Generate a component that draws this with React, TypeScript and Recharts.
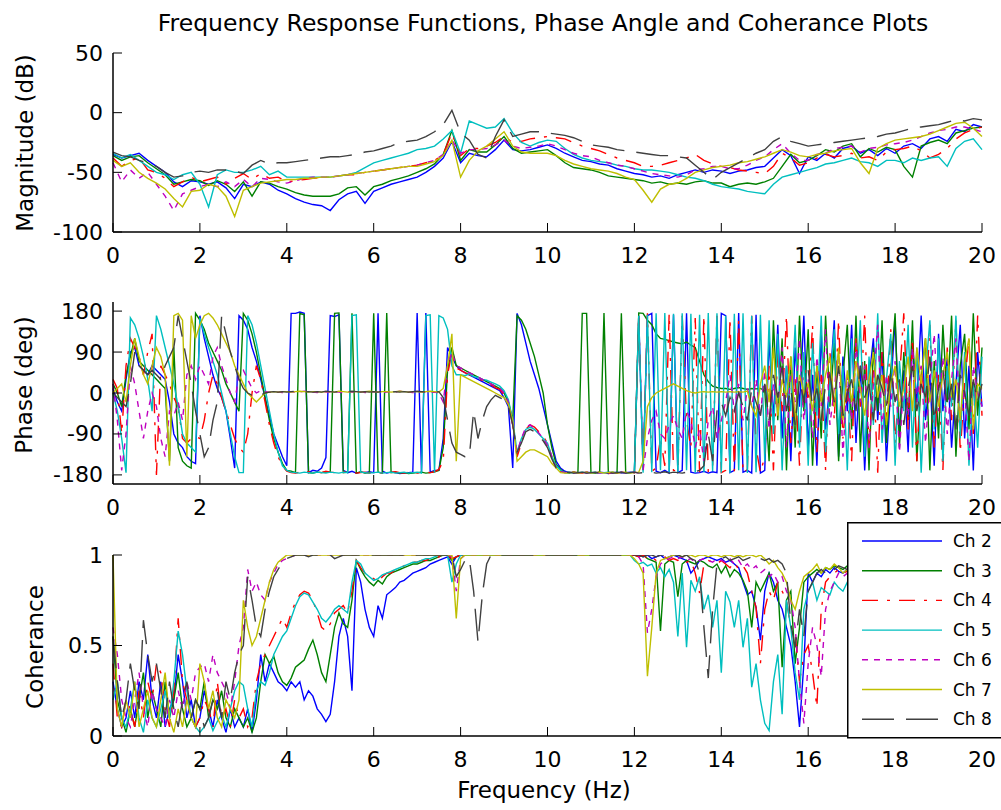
import { LineChart, Line, XAxis, YAxis } from 'recharts';

const FONT = '"DejaVu Sans", Verdana, sans-serif';

const channelNames = ['Ch 2', 'Ch 3', 'Ch 4', 'Ch 5', 'Ch 6', 'Ch 7', 'Ch 8'];
const channelKeys = ['ch2', 'ch3', 'ch4', 'ch5', 'ch6', 'ch7', 'ch8'];
const channelColors = ['#0000ff', '#008000', '#ff0000', '#00bfbf', '#bf00bf', '#bfbf00', '#404040'];
const channelDashes = [undefined, undefined, '16 9 3 9', undefined, '6 6', undefined, '32 12'];

const freqTicks = [0, 2, 4, 6, 8, 10, 12, 14, 16, 18, 20];
const magTicks = [-100, -50, 0, 50];
const phaseTicks = [-180, -90, 0, 90, 180];
const cohTicks = [0, 0.5, 1];

// sampling grids (Hz)
const magFreq = Array.from({ length: 101 }, (_, i) => +(i * 0.2).toFixed(1));
const phaseFreq = Array.from({ length: 201 }, (_, i) => +(i * 0.1).toFixed(1));
const cohFreq = Array.from({ length: 171 }, (_, i) => +(i * 0.1).toFixed(1));

// magnitude (dB), every 0.2 Hz
const magCh2 = [
  -35, -38, -36, -34, -40, -45, -50, -58, -62, -57, -58, -60, -58, -63, -72, -60, -62, -58, -60, -65,
  -68, -72, -75, -77, -78, -82, -73, -68, -66, -76, -66, -63, -60, -58, -56, -54, -50, -45, -38, -24,
  -42, -34, -36, -37, -31, -23, -31, -32, -31, -29, -27, -30, -34, -37, -40, -41, -43, -44, -47, -49,
  -51, -52, -54, -53, -55, -52, -50, -48, -50, -48, -49, -51, -49, -48, -46, -45, -38, -31, -36, -51,
  -37, -40, -34, -38, -30, -28, -34, -31, -36, -30, -34, -28, -26, -30, -22, -20, -24, -14, -16, -10,
  -12,
];
const magCh3 = [
  -36, -40, -37, -36, -42, -47, -52, -60, -58, -56, -57, -61, -57, -60, -66, -58, -70, -58, -59, -62,
  -64, -67, -69, -70, -70, -70, -68, -63, -62, -69, -62, -60, -57, -55, -53, -50, -47, -43, -35, -15,
  -40, -31, -33, -33, -27, -20, -30, -34, -33, -32, -31, -36, -42, -46, -47, -48, -50, -53, -54, -55,
  -56, -57, -59, -58, -60, -59, -60, -58, -57, -59, -59, -62, -60, -59, -60, -58, -55, -45, -35, -42,
  -40, -36, -31, -33, -28, -26, -37, -30, -33, -29, -31, -45, -54, -28, -25, -23, -26, -17, -15, -13,
  -12,
];
const magCh4 = [
  -38, -45, -40, -38, -48, -50, -55, -62, -58, -54, -58, -56, -54, -60, -55, -51, -56, -51, -55, -54,
  -58, -57, -56, -55, -54, -54, -53, -52, -52, -50, -49, -48, -47, -46, -45, -44, -42, -40, -35, -17,
  -36, -30, -30, -28, -25, -20, -25, -24, -22, -21, -20, -21, -22, -25, -28, -30, -32, -35, -38, -40,
  -42, -45, -45, -44, -42, -40, -38, -35, -40, -43, -45, -46, -48, -49, -50, -51, -45, -34, -38, -44,
  -42, -38, -35, -37, -36, -34, -38, -37, -40, -33, -31, -30, -28, -32, -38, -35, -30, -22, -17, -14,
  -12,
];
const magCh5 = [
  -34, -38, -35, -40, -45, -50, -52, -56, -52, -50, -60, -79, -52, -48, -50, -50, -48, -45, -52, -49,
  -54, -54, -54, -54, -54, -54, -53, -52, -50, -46, -42, -40, -38, -36, -34, -31, -30, -28, -22, -15,
  -34, -7, -10, -13, -12, -5, -17, -25, -28, -25, -23, -24, -30, -35, -38, -40, -41, -42, -44, -45,
  -47, -48, -48, -49, -50, -52, -54, -55, -57, -60, -62, -63, -64, -66, -67, -68, -60, -54, -52, -50,
  -48, -46, -43, -42, -40, -38, -41, -42, -45, -40, -40, -42, -38, -40, -38, -37, -45, -30, -24, -22,
  -31,
];
const magCh6 = [
  -42, -58, -48, -55, -50, -60, -70, -82, -68, -65, -62, -60, -62, -58, -62, -56, -62, -55, -56, -58,
  -59, -57, -55, -54, -54, -54, -53, -52, -51, -50, -49, -48, -47, -46, -45, -44, -42, -40, -35, -23,
  -34, -31, -31, -30, -27, -23, -28, -30, -29, -28, -26, -28, -31, -34, -36, -37, -40, -42, -44, -45,
  -47, -49, -51, -52, -53, -54, -52, -48, -47, -45, -45, -47, -47, -44, -40, -37, -31, -26, -34, -40,
  -40, -35, -34, -30, -29, -28, -33, -30, -29, -27, -26, -25, -23, -20, -17, -15, -14, -12, -12, -14,
  -16,
];
const magCh7 = [
  -40, -45, -42, -50, -55, -59, -64, -72, -79, -66, -65, -60, -62, -70, -87, -65, -62, -59, -58, -57,
  -56, -56, -55, -55, -54, -54, -53, -52, -51, -50, -49, -48, -47, -46, -45, -45, -43, -41, -36, -23,
  -54, -40, -32, -28, -22, -16, -28, -33, -34, -34, -34, -36, -40, -43, -45, -47, -48, -49, -51, -54,
  -56, -65, -75, -64, -60, -59, -55, -50, -48, -46, -45, -44, -42, -41, -39, -37, -34, -31, -33, -36,
  -37, -35, -34, -32, -31, -30, -42, -51, -30, -26, -23, -22, -21, -20, -18, -15, -12, -9, -8, -13,
  -20,
];
const magCh8 = [
  -33, -36, -37, -40, -42, -45, -50, -54, -53, -50, -49, -50, -48, -48, -49, -51, -44, -40, -43, -42,
  -42, -41, -40, -39, -38, -37, -37, -36, -35, -33, -32, -30, -28, -25, -24, -23, -20, -16, -10, 2,
  -17, -23, -35, -38, -20, -6, -20, -18, -16, -16, -17, -18, -19, -21, -24, -27, -28, -29, -31, -32,
  -33, -34, -35, -36, -36, -37, -38, -44, -50, -56, -50, -46, -42, -38, -34, -31, -24, -20, -24, -26,
  -28, -27, -26, -25, -24, -23, -22, -21, -20, -18, -17, -15, -13, -12, -11, -10, -8, -6, -7, -5,
  -6,
];

// phase (deg), every 0.1 Hz
const phaseCh2 = [
  10, -20, -40, 30, 90, 100, 60, 50, 40, 60,
  50, 40, 30, -20, -90, -110, -120, -140, -150, -155,
  170, 120, 80, 40, 10, -10, -40, -100, -165, 170,
  160, 140, 100, 70, 30, -10, -50, -90, -115, -140,
  -160, 175, 175, 178, 175, -175, -170, -172, -165, -142,
  170, 168, 172, -170, -175, -172, -176, -174, -175, -173,
  -175, 175, -172, -176, -174, -175, -177, -176, -175, -174,
  176, -175, 176, -174, -170, -170, -100, 100, 80, 60,
  50, 45, 40, 35, 30, 25, 20, 15, 10, 5,
  -10, -30, -165, 175, 150, 110, 70, 40, 10, -30,
  -70, -110, -150, -165, -172, -175, -174, -176, -175, -174,
  -175, -176, -174, -175, -177, -175, -174, -176, -175, -174,
  -175, 170, -170, 170, 175, -172, -175, -170, -176, 172,
  -175, -170, 175, -174, -176, -175, -172, -176, -173, -175,
  175, 170, -175, -170, 176, -174, -170, -176, 172, -176,
  -170, 120, -60, 150, -100, 60, -150, 100, -30, 170,
  -120, 40, -160, 130, -80, 20, 160, -140, 80, -40,
  150, -110, 60, -170, 30, 120, -60, 90, -150, 10,
  160, -90, 50, -130, 110, -20, 170, -60, 40, -160,
  130, -40, 80, -120, 20, 150, -100, 60, -170, 90,
  -30,
];
const phaseCh3 = [
  20, 0, -30, 40, 80, 120, 70, 60, 50, 40,
  30, 20, 10, -150, 100, -120, -150, -160, -165, 175,
  160, 140, 110, 90, 70, 50, 20, 0, -20, -40,
  175, 160, 130, 90, 40, -10, -60, -100, -130, -155,
  -170, -172, -175, 175, 172, -175, -176, -174, -175, -173,
  -174, 175, 176, -175, -174, 175, -176, -173, -176, -175,
  175, -174, -176, 176, -175, -174, -176, -175, -177, -176,
  -175, -174, -176, -175, -173, -170, -120, 50, 100, 60,
  55, 50, 45, 40, 35, 30, 25, 20, 15, 10,
  0, -20, -60, 170, 160, 140, 110, 80, 40, 0,
  -70, -120, -157, -168, -175, -176, -174, -175, 175, 175,
  -175, -176, -174, 176, -175, -174, -176, 175, -176, -175,
  -174, 176, 175, 160, 150, 130, 120, 118, 115, 112,
  110, 108, 112, 105, 100, 70, 40, 25, 15, 12,
  10, 10, 8, 10, 12, 10, 8, 10, 9, 10,
  5, -150, 160, -60, 120, -170, 80, -120, 170, -40,
  140, -160, 60, -100, 170, -30, 110, -150, 40, 150,
  -80, 170, -130, 70, -170, 100, -40, 160, -110, 50,
  175, -120, 90, -60, 160, -150, 30, 120, -170, 70,
  -100, 150, -20, 170, -140, 60, 130, -80, 175, -50,
  100,
];
const phaseCh4 = [
  30, 10, -90, 60, 120, 100, 80, 40, 90, 130,
  -180, 60, 40, 20, -10, -30, -100, -110, -100, -95,
  -100, -60, 0, 40, 20, -10, -40, -70, -100, -120,
  -130, -90, 0, 60, 30, -20, -70, -110, -140, -160,
  -172, -175, -176, -174, -175, -173, -176, -174, -175, -172,
  -174, -175, -176, -173, -175, -174, -176, -175, -174, -176,
  -175, -174, -176, -175, -174, -173, -175, -176, -174, -175,
  -176, -175, -174, -175, -173, -168, -150, 40, 90, 55,
  50, 45, 40, 38, 32, 28, 22, 18, 12, 8,
  -5, -25, -70, -140, -110, -80, -70, -75, -85, -95,
  -110, -140, -165, -172, -175, -176, -174, -175, -176, -174,
  -175, -176, -174, -175, -177, -175, -176, -174, -175, -176,
  -175, 170, -170, 175, -172, -165, -100, -160, 175, -170,
  -172, 170, -60, -120, 165, -174, 170, -175, -160, 170,
  -175, -170, 165, -172, 160, -176, -168, 170, -120, -175,
  -140, 60, -170, 100, -40, 170, -110, 30, -160, 80,
  -20, 150, -130, 40, -170, 90, -60, 160, -100, 10,
  -150, 120, -30, 170, -120, 50, -175, 90, -60, 140,
  -110, 30, 175, -80, 120, -150, 60, -30, 150, -120,
  40, -170, 100, -60, 160, -130, 20, 120, -90, 170,
  -50,
];
const phaseCh5 = [
  0, -40, -100, -175, 165, 150, 120, 80, 30, -40,
  170, 140, 100, 60, 20, -30, -90, -110, -120, -130,
  165, 130, 100, 70, 40, 0, -40, -90, -140, -175,
  -175, 170, 150, 110, 60, 10, -40, -90, -130, -160,
  -170, -174, -175, -176, -174, -175, -176, -174, -175, -176,
  -174, -175, -176, -174, -175, 170, 172, -174, -175, -176,
  -175, -174, -176, -175, -174, -176, -175, -174, -176, -175,
  -174, -176, 170, 172, -175, 170, 165, 140, 60, 40,
  40, 38, 42, 36, 34, 30, 28, 24, 20, 15,
  5, -15, -60, -130, -100, -80, -75, -80, -90, -100,
  -110, -140, -160, -170, -175, -174, -176, -175, -174, -176,
  -175, -174, -176, -175, -174, -176, -175, -174, -176, -175,
  -174, 170, -175, 172, -174, 175, -170, 176, -175, 174,
  -176, 175, -170, 174, -175, 172, -174, 176, -172, 175,
  -175, 170, -176, 174, -170, 175, -176, 170, -174, 172,
  -150, 160, -90, 130, -170, 60, -40, 150, -120, 90,
  -160, 110, -50, 170, -130, 20, 140, -90, 60, -170,
  120, -20, 160, -140, 80, -70, 175, -110, 30, 130,
  -160, 70, -40, 150, -120, 100, -175, 40, 160, -80,
  120, -150, 60, -30, 170, -100, 90, -160, 20, -120,
  80,
];
const phaseCh6 = [
  20, -60, -170, -90, 60, 20, -40, -100, -40, 0,
  -30, -100, -140, -40, -50, -20, -60, 40, 60, 30,
  60, 40, 20, 80, 100, 60, 30, 0, -20, 40,
  50, 30, 10, 0, 5, 3, 2, 0, 2, 1,
  2, 3, 1, 2, 4, 3, 2, 1, 3, 2,
  2, 3, 2, 1, 3, 2, 2, 3, 1, 2,
  3, 2, 1, 2, 3, 2, 4, 3, 2, 1,
  2, 3, 2, 1, 2, 0, -20, 60, 90, 60,
  55, 50, 45, 40, 35, 30, 25, 20, 15, 10,
  0, -20, -70, -130, -100, -75, -70, -78, -88, -100,
  -115, -140, -165, -172, -175, -174, -176, -175, -174, -176,
  -175, -174, -176, -175, -174, -176, -175, -174, -176, -175,
  -174, -176, -170, -100, -60, -40, -90, -100, -70, -50,
  -80, -100, -40, -60, -120, -80, -150, -60, -30, -100,
  -60, -20, 40, -40, 20, -60, 10, -30, 30, -50,
  50, -80, 20, -40, 100, -120, 60, -20, 120, -60,
  30, -100, 80, -30, 140, -70, 10, 90, -140, 40,
  -60, 110, -20, 60, -120, 20, 150, -80, 40, -30,
  70, -130, 30, -50, 100, -20, 60, -110, 20, 130,
  -40, 80, -90, 30, 120, -60, 10, -150, 60, 0,
  -30,
];
const phaseCh7 = [
  0, 10, 20, -20, 60, 120, 80, 40, 20, 60,
  100, 80, 40, -160, 170, 175, 160, -140, 170, 120,
  150, 170, 175, 165, 150, 130, 110, 90, 60, 40,
  20, 0, -10, -20, -10, 0, 2, 3, 2, 3,
  3, 2, 3, 4, 3, 2, 3, 3, 2, 3,
  3, 2, 4, 3, 2, 3, 3, 2, 3, 4,
  3, 2, 3, 3, 2, 3, 4, 3, 2, 3,
  3, 2, 3, 4, 3, 2, 10, 60, 130, -150,
  40, 35, 30, 25, 20, 15, 10, 5, 0, -5,
  -10, -25, -60, -150, -140, -130, -125, -125, -130, -135,
  -140, -155, -165, -175, -176, -175, -174, -176, -175, -174,
  -176, -175, -174, -176, -175, -174, -176, -175, -174, -176,
  -175, -174, -150, -30, -10, 0, 5, 10, 15, 20,
  15, 10, 5, 2, 0, 2, 3, 2, 3, 2,
  3, 2, 3, 2, 3, 2, 4, -30, -50, 20,
  60, -20, 100, -50, 30, -10, 80, -60, 40, 0,
  20, -40, 60, -20, 40, 80, -30, 100, -60, 50,
  -20, 70, 10, -50, 30, 90, -10, 40, -70, 20,
  60, -30, 10, 80, -40, 100, 20, 120, -20, 50,
  -30, 40, 90, -10, 30, -60, 70, 120, -80, 20,
  10,
];
const phaseCh8 = [
  0, -10, -20, -30, 20, 90, 60, 50, 40, 50,
  40, 30, 60, 80, 100, 170, 120, 70, 20, -40,
  -90, -140, -120, -60, -20, 170, 130, 90, 60, 30,
  10, 0, -5, -10, -5, 0, 2, 3, 2, 3,
  2, 3, 4, 3, 2, 3, 2, 3, 2, 4,
  3, 2, 3, 2, 3, 4, 3, 2, 3, 2,
  3, 2, 4, 3, 2, 3, 2, 3, 2, 3,
  4, 3, 2, 3, 2, 3, -10, -60, -110, -130,
  -135, -140, -140, -40, -100, -60, -30, -15, -5, -10,
  -15, -30, -70, -130, -110, -85, -80, -85, -95, -105,
  -120, -145, -165, -172, -175, -174, -176, -175, -174, -176,
  -175, -174, -176, -175, -174, -176, -175, -174, -176, -175,
  -174, -176, -175, -172, -174, -176, -175, -173, -176, -174,
  -175, -176, -174, -175, -173, -170, -160, -90, -150, -40,
  -20, -50, -10, -40, 0, -30, -60, 10, -20, -50,
  20, -60, 40, -10, 60, -40, 10, -70, 30, -20,
  50, -30, 10, -60, 20, 40, -20, 60, -50, 0,
  30, -40, 60, -10, 20, -60, 40, 10, -30, 50,
  -20, 30, -70, 10, 60, -40, 20, -10, 80, -60,
  10, 50, -30, 20, -80, 40, 0, -50, 30, -20,
  20,
];

// coherence, every 0.1 Hz up to 17 Hz (the rest sits behind the legend)
const cohCh2 = [
  0.3, 0.15, 0.05, 0.1, 0.25, 0.1, 0.3, 0.2, 0.45, 0.2,
  0.1, 0.3, 0.05, 0.15, 0.2, 0.45, 0.3, 0.1, 0.2, 0.05,
  0.1, 0.25, 0.15, 0.05, 0.2, 0.1, 0.02, 0.15, 0.05, 0.1,
  0.05, 0.15, 0.02, 0.2, 0.45, 0.3, 0.4, 0.35, 0.3, 0.28,
  0.25, 0.3, 0.27, 0.3, 0.2, 0.25, 0.22, 0.15, 0.12, 0.08,
  0.12, 0.3, 0.55, 0.65, 0.55, 0.25, 0.93, 0.85, 0.7, 0.6,
  0.55, 0.72, 0.65, 0.78, 0.8, 0.82, 0.85, 0.86, 0.88, 0.9,
  0.91, 0.92, 0.93, 0.95, 0.96, 0.97, 0.98, 0.99, 0.95, 0.99,
  1, 1, 1, 1, 1, 1, 1, 1, 1, 1,
  1, 1, 1, 1, 1, 1, 1, 1, 1, 1,
  1, 1, 1, 1, 1, 1, 1, 1, 1, 1,
  1, 1, 1, 1, 1, 1, 1, 1, 1, 1,
  1, 1, 0.99, 1, 0.98, 0.99, 1, 0.98, 0.99, 1,
  0.99, 0.98, 0.97, 0.9, 0.93, 0.97, 0.98, 0.99, 0.98, 0.97,
  0.98, 0.96, 0.97, 0.95, 0.93, 0.85, 0.78, 0.8, 0.71, 0.53,
  0.8, 0.9, 0.85, 0.75, 0.7, 0.6, 0.5, 0.3, 0.05, 0.4,
  0.9, 0.85, 0.9, 0.88, 0.92, 0.9, 0.93, 0.91, 0.9, 0.92,
  0.9,
];
const cohCh3 = [
  0.55, 0.2, 0.1, 0.02, 0.15, 0.05, 0.2, 0.35, 0.1, 0.25,
  0.15, 0.05, 0.3, 0.1, 0.2, 0.35, 0.15, 0.05, 0.1, 0.2,
  0.15, 0.3, 0.1, 0.2, 0.15, 0.25, 0.1, 0.05, 0.15, 0.1,
  0.05, 0.1, 0.02, 0.1, 0.3, 0.45, 0.4, 0.44, 0.35, 0.3,
  0.28, 0.32, 0.38, 0.4, 0.42, 0.48, 0.53, 0.45, 0.35, 0.3,
  0.45, 0.6, 0.68, 0.62, 0.6, 0.75, 0.97, 0.92, 0.88, 0.85,
  0.83, 0.86, 0.84, 0.88, 0.9, 0.91, 0.92, 0.93, 0.94, 0.95,
  0.95, 0.96, 0.97, 0.97, 0.98, 0.99, 1, 1, 0.97, 0.99,
  1, 1, 1, 1, 1, 1, 1, 1, 1, 1,
  1, 1, 1, 1, 1, 1, 1, 1, 1, 1,
  1, 1, 1, 1, 1, 1, 1, 1, 1, 1,
  1, 1, 1, 1, 1, 1, 1, 1, 1, 1,
  1, 0.99, 1, 0.98, 0.97, 0.96, 0.58, 0.95, 0.97, 0.96,
  0.77, 0.95, 0.97, 0.96, 0.95, 0.97, 0.96, 0.94, 0.93, 0.95,
  0.9, 0.94, 0.88, 0.92, 0.9, 0.86, 0.8, 0.6, 0.85, 0.8,
  0.85, 0.9, 0.8, 0.85, 0.38, 0.75, 0.8, 0.4, 0.6, 0.85,
  0.88, 0.9, 0.92, 0.9, 0.93, 0.92, 0.94, 0.93, 0.92, 0.94,
  0.93,
];
const cohCh4 = [
  0.4, 0.1, 0.05, 0.2, 0.15, 0.05, 0.25, 0.1, 0.3, 0.2,
  0.4, 0.35, 0.15, 0.05, 0.25, 0.65, 0.3, 0.2, 0.1, 0.05,
  0.1, 0.2, 0.15, 0.05, 0.3, 0.1, 0.15, 0.05, 0.2, 0.1,
  0.15, 0.05, 0.1, 0.3, 0.4, 0.45, 0.5, 0.55, 0.6, 0.65,
  0.6, 0.68, 0.74, 0.78, 0.8, 0.79, 0.75, 0.68, 0.6, 0.58,
  0.62, 0.68, 0.7, 0.72, 0.68, 0.8, 0.97, 0.93, 0.9, 0.88,
  0.87, 0.85, 0.88, 0.9, 0.9, 0.92, 0.93, 0.94, 0.95, 0.96,
  0.96, 0.97, 0.97, 0.98, 0.98, 0.99, 1, 1, 0.98, 0.99,
  1, 1, 1, 1, 1, 1, 1, 1, 1, 1,
  1, 1, 1, 1, 1, 1, 1, 1, 1, 1,
  1, 1, 1, 1, 1, 1, 1, 1, 1, 1,
  1, 1, 1, 1, 1, 1, 1, 1, 1, 1,
  1, 0.99, 1, 0.98, 0.99, 0.97, 0.98, 0.99, 0.97, 0.98,
  0.97, 0.98, 0.96, 0.97, 0.9, 0.79, 0.95, 0.97, 0.96, 0.95,
  0.97, 0.95, 0.93, 0.96, 0.92, 0.94, 0.9, 0.8, 0.71, 0.4,
  0.7, 0.8, 0.75, 0.85, 0.8, 0.75, 0.6, 0.57, 0.3, 0.45,
  0.5, 0.35, 0.16, 0.7, 0.85, 0.88, 0.9, 0.92, 0.9, 0.91,
  0.92,
];
const cohCh5 = [
  0.2, 0.3, 0.1, 0.05, 0.15, 0.3, 0.1, 0.02, 0.2, 0.1,
  0.05, 0.15, 0.25, 0.1, 0.3, 0.58, 0.45, 0.25, 0.1, 0.05,
  0.02, 0.05, 0.1, 0.03, 0.08, 0.12, 0.05, 0.15, 0.25, 0.3,
  0.28, 0.15, 0.05, 0.25, 0.3, 0.28, 0.35, 0.45, 0.5, 0.55,
  0.58, 0.65, 0.72, 0.77, 0.79, 0.78, 0.74, 0.7, 0.65, 0.63,
  0.66, 0.7, 0.72, 0.7, 0.68, 0.85, 0.97, 0.95, 0.9, 0.88,
  0.86, 0.87, 0.89, 0.9, 0.91, 0.92, 0.93, 0.94, 0.95, 0.96,
  0.96, 0.97, 0.98, 0.98, 0.99, 1, 1, 1, 0.85, 0.95,
  1, 1, 1, 1, 1, 1, 1, 1, 1, 1,
  1, 1, 1, 1, 1, 1, 1, 1, 1, 1,
  1, 1, 1, 1, 1, 1, 1, 1, 1, 1,
  1, 1, 1, 1, 1, 1, 1, 1, 1, 1,
  0.97, 0.95, 0.96, 0.94, 0.95, 0.9, 0.93, 0.88, 0.92, 0.85,
  0.55, 0.9, 0.49, 0.86, 0.8, 0.88, 0.7, 0.78, 0.6, 0.75,
  0.35, 0.8, 0.74, 0.6, 0.75, 0.49, 0.65, 0.27, 0.4, 0.2,
  0.07, 0.03, 0.3, 0.45, 0.12, 0.75, 0.6, 0.35, 0.2, 0.7,
  0.8, 0.85, 0.75, 0.82, 0.8, 0.78, 0.85, 0.82, 0.8, 0.85,
  0.83,
];
const cohCh6 = [
  0.6, 0.45, 0.2, 0.1, 0.05, 0.2, 0.35, 0.15, 0.05, 0.25,
  0.15, 0.1, 0.05, 0.2, 0.1, 0.25, 0.15, 0.3, 0.2, 0.35,
  0.38, 0.4, 0.3, 0.45, 0.35, 0.3, 0.25, 0.15, 0.3, 0.5,
  0.6, 0.92, 0.8, 0.85, 0.78, 0.75, 0.85, 0.9, 0.95, 0.97,
  0.98, 0.99, 1, 1, 1, 1, 1, 1, 1, 1,
  1, 1, 1, 1, 1, 1, 1, 1, 1, 1,
  1, 1, 1, 1, 1, 1, 1, 1, 1, 1,
  1, 1, 1, 1, 1, 1, 1, 1, 0.99, 0.8,
  0.98, 1, 1, 1, 1, 1, 1, 1, 1, 1,
  1, 1, 1, 1, 1, 1, 1, 1, 1, 1,
  1, 1, 1, 1, 1, 1, 1, 1, 1, 1,
  1, 1, 1, 1, 1, 1, 1, 1, 1, 1,
  1, 0.99, 0.95, 0.57, 0.7, 0.88, 0.95, 0.97, 0.98, 0.99,
  0.98, 0.99, 0.97, 0.98, 0.96, 0.97, 0.98, 0.97, 0.96, 0.98,
  0.97, 0.96, 0.98, 0.95, 0.97, 0.93, 0.95, 0.92, 0.94, 0.9,
  0.92, 0.88, 0.9, 0.85, 0.88, 0.8, 0.75, 0.6, 0.3, 0.07,
  0.4, 0.6, 0.5, 0.33, 0.7, 0.8, 0.85, 0.9, 0.88, 0.9,
  0.9,
];
const cohCh7 = [
  1, 0.15, 0.05, 0.2, 0.1, 0.3, 0.05, 0.15, 0.25, 0.1,
  0.05, 0.2, 0.35, 0.1, 0.02, 0.15, 0.05, 0.2, 0.1, 0.05,
  0.4, 0.3, 0.15, 0.25, 0.1, 0.05, 0.2, 0.15, 0.1, 0.2,
  0.75, 0.6, 0.5, 0.55, 0.65, 0.75, 0.85, 0.92, 0.96, 0.98,
  1, 1, 1, 1, 1, 1, 1, 1, 1, 1,
  1, 1, 1, 1, 1, 1, 1, 1, 1, 1,
  1, 1, 1, 1, 1, 1, 1, 1, 1, 1,
  1, 1, 1, 1, 1, 1, 1, 1, 1, 0.65,
  0.98, 1, 1, 1, 1, 1, 1, 1, 1, 1,
  1, 1, 1, 1, 1, 1, 1, 1, 1, 1,
  1, 1, 1, 1, 1, 1, 1, 1, 1, 1,
  1, 1, 1, 1, 1, 1, 1, 1, 1, 1,
  0.98, 0.95, 0.9, 0.33, 0.6, 0.9, 0.97, 0.98, 0.99, 1,
  1, 0.99, 1, 1, 0.99, 1, 1, 0.99, 1, 1,
  0.99, 1, 1, 0.99, 1, 0.99, 1, 1, 0.99, 1,
  0.98, 0.95, 0.97, 0.93, 0.9, 0.85, 0.75, 0.7, 0.8, 0.88,
  0.9, 0.92, 0.95, 0.9, 0.93, 0.92, 0.95, 0.93, 0.9, 0.92,
  0.92,
];
const cohCh8 = [
  0.55, 0.3, 0.1, 0.2, 0.4, 0.25, 0.15, 0.64, 0.45, 0.3,
  0.4, 0.25, 0.1, 0.3, 0.15, 0.05, 0.2, 0.3, 0.1, 0.2,
  0.15, 0.05, 0.1, 0.2, 0.25, 0.1, 0.3, 0.2, 0.35, 0.45,
  0.5, 0.88, 0.75, 0.6, 0.55, 0.7, 0.8, 0.88, 0.92, 0.96,
  0.98, 0.99, 1, 1, 1, 0.99, 1, 1, 1, 1,
  1, 0.98, 0.99, 1, 1, 1, 1, 1, 1, 1,
  1, 1, 1, 1, 1, 1, 1, 1, 1, 1,
  1, 1, 1, 1, 1, 1, 1, 1, 1, 0.88,
  0.92, 0.97, 0.98, 0.8, 0.52, 0.78, 0.95, 1, 1, 1,
  1, 1, 1, 1, 1, 1, 1, 1, 1, 1,
  1, 1, 1, 1, 1, 1, 1, 1, 1, 1,
  1, 1, 1, 1, 1, 1, 1, 1, 1, 1,
  1, 1, 0.99, 1, 1, 0.99, 1, 1, 0.99, 1,
  1, 0.99, 1, 0.98, 0.97, 0.9, 0.6, 0.32, 0.7, 0.95,
  0.98, 0.99, 0.97, 0.98, 0.99, 0.97, 0.98, 0.99, 0.97, 0.98,
  0.97, 0.98, 0.96, 0.97, 0.95, 0.9, 0.62, 0.49, 0.7, 0.55,
  0.8, 0.85, 0.9, 0.92, 0.9, 0.93, 0.92, 0.94, 0.93, 0.92,
  0.93,
];

const buildRows = (freq: number[], series: number[][]) =>
  freq.map((f, i) => {
    const row: Record<string, number> = { f };
    channelKeys.forEach((k, j) => {
      row[k] = series[j][i];
    });
    return row;
  });

const magRows = buildRows(magFreq, [magCh2, magCh3, magCh4, magCh5, magCh6, magCh7, magCh8]);
const phaseRows = buildRows(phaseFreq, [phaseCh2, phaseCh3, phaseCh4, phaseCh5, phaseCh6, phaseCh7, phaseCh8]);
const cohRows = buildRows(cohFreq, [cohCh2, cohCh3, cohCh4, cohCh5, cohCh6, cohCh7, cohCh8]);

const PLOT_LEFT = 113;
const PLOT_RIGHT = 982;
const PAD = 20;
const TICK_LEN = 9;

interface PanelProps {
  top: number;
  plotH: number;
  rows: Record<string, number>[];
  domain: [number, number];
  yTicks: number[];
}

const Panel = ({ top, plotH, rows, domain, yTicks }: PanelProps) => {
  const bottom = PAD + plotH;
  const frame = { stroke: '#000', strokeWidth: 1.5 };

  const bottomTick = (p: any) => (
    <g>
      <line x1={p.x} x2={p.x} y1={bottom} y2={bottom - TICK_LEN} stroke="#000" />
      <text x={p.x} y={bottom + 23} textAnchor="middle" dominantBaseline="central" fontSize={22} fontFamily={FONT} fill="#000">
        {p.payload.value}
      </text>
    </g>
  );
  const topTick = (p: any) => <line x1={p.x} x2={p.x} y1={PAD} y2={PAD + TICK_LEN} stroke="#000" />;
  const leftTick = (p: any) => (
    <g>
      <line x1={PLOT_LEFT} x2={PLOT_LEFT + TICK_LEN} y1={p.y} y2={p.y} stroke="#000" />
      <text x={103} y={p.y} textAnchor="end" dominantBaseline="central" fontSize={22} fontFamily={FONT} fill="#000">
        {p.payload.value}
      </text>
    </g>
  );
  const rightTick = (p: any) => <line x1={PLOT_RIGHT} x2={PLOT_RIGHT - TICK_LEN} y1={p.y} y2={p.y} stroke="#000" />;

  return (
    <div style={{ position: 'absolute', left: 0, top: top - PAD }}>
      <LineChart width={1001} height={plotH + PAD + 40} data={rows} margin={{ top: PAD, right: 1001 - PLOT_RIGHT, bottom: 0, left: 0 }}>
        <XAxis xAxisId="b" dataKey="f" type="number" domain={[0, 20]} ticks={freqTicks} interval={0} height={40}
          tickLine={false} tickSize={0} tick={bottomTick} axisLine={frame} />
        <XAxis xAxisId="t" orientation="top" dataKey="f" type="number" domain={[0, 20]} ticks={freqTicks} interval={0} height={0}
          tickLine={false} tickSize={0} tick={topTick} axisLine={frame} />
        <YAxis yAxisId="l" type="number" domain={domain} ticks={yTicks} interval={0} width={PLOT_LEFT}
          tickLine={false} tickSize={0} tick={leftTick} axisLine={frame} allowDataOverflow />
        <YAxis yAxisId="r" orientation="right" type="number" domain={domain} ticks={yTicks} interval={0} width={0}
          tickLine={false} tickSize={0} tick={rightTick} axisLine={frame} allowDataOverflow />
        {channelKeys.map((k, i) => (
          <Line key={k} xAxisId="b" yAxisId="l" type="linear" dataKey={k} stroke={channelColors[i]} strokeWidth={1.4}
            strokeDasharray={channelDashes[i]} dot={false} activeDot={false} isAnimationActive={false} />
        ))}
      </LineChart>
    </div>
  );
};

const Legend = () => (
  <svg width={154} height={217} style={{ position: 'absolute', left: 847, top: 522 }}>
    <rect x={0.75} y={0.75} width={170} height={215} fill="#fff" stroke="#000" strokeWidth={1.5} />
    {channelNames.map((name, i) => {
      const y = 19 + i * 29.7;
      return (
        <g key={name}>
          <line x1={15} x2={95} y1={y} y2={y} stroke={channelColors[i]} strokeWidth={1.4} strokeDasharray={channelDashes[i]} />
          <text x={106} y={y} dominantBaseline="central" fontSize={17} fontFamily={FONT} fill="#000">{name}</text>
        </g>
      );
    })}
  </svg>
);

const Labels = () => (
  <svg width={1001} height={810} style={{ position: 'absolute', left: 0, top: 0 }}>
    <text x={543} y={23} textAnchor="middle" dominantBaseline="central" fontSize={23.5} fontFamily={FONT} fill="#000">
      Frequency Response Functions, Phase Angle and Coherance Plots
    </text>
    <text x={25} y={143} textAnchor="middle" dominantBaseline="central" fontSize={23} fontFamily={FONT} fill="#000" transform="rotate(-90 25 143)">
      Magnitude (dB)
    </text>
    <text x={24} y={385} textAnchor="middle" dominantBaseline="central" fontSize={23} fontFamily={FONT} fill="#000" transform="rotate(-90 24 385)">
      Phase (deg)
    </text>
    <text x={35} y={647} textAnchor="middle" dominantBaseline="central" fontSize={23} fontFamily={FONT} fill="#000" transform="rotate(-90 35 647)">
      Coherance
    </text>
    <text x={544} y={790} textAnchor="middle" dominantBaseline="central" fontSize={23} fontFamily={FONT} fill="#000">
      Frequency (Hz)
    </text>
  </svg>
);

export default function App() {
  return (
    <div style={{ position: 'absolute', left: 0, top: 0, width: 1001, height: 810, background: '#fff', overflow: 'hidden' }}>
      <Panel top={53} plotH={179} rows={magRows} domain={[-100, 50]} yTicks={magTicks} />
      <Panel top={302} plotH={182} rows={phaseRows} domain={[-200, 200]} yTicks={phaseTicks} />
      <Panel top={555} plotH={181} rows={cohRows} domain={[0, 1]} yTicks={cohTicks} />
      <Labels />
      <Legend />
    </div>
  );
}
